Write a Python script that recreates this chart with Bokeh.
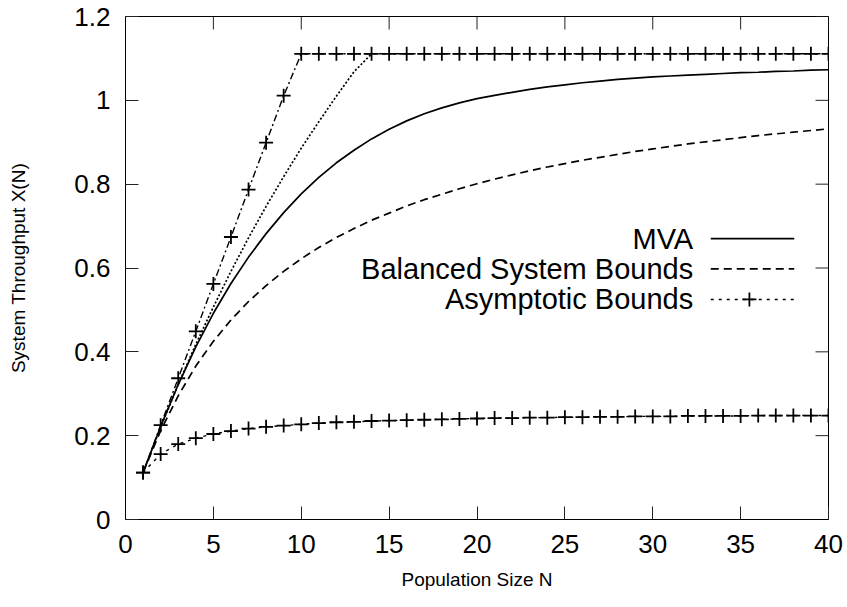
from bokeh.plotting import figure
from bokeh.models import Range1d, FixedTicker, Label, CustomJSTickFormatter
from bokeh.embed import file_html
from bokeh.resources import INLINE

# ---------------- data ----------------
N = list(range(1, 41))

mva = [0.112, 0.222, 0.322, 0.412, 0.492, 0.563, 0.626, 0.682, 0.732, 0.777,
       0.816, 0.851, 0.881, 0.908, 0.931, 0.951, 0.968, 0.982, 0.994, 1.004,
       1.012, 1.019, 1.026, 1.032, 1.037, 1.042, 1.046, 1.050, 1.053, 1.056,
       1.058, 1.060, 1.062, 1.064, 1.066, 1.067, 1.069, 1.070, 1.072, 1.073]

bsb_lower = [0.112, 0.212, 0.295, 0.366, 0.425, 0.476, 0.520, 0.558, 0.592, 0.622,
             0.649, 0.673, 0.694, 0.714, 0.731, 0.748, 0.763, 0.776, 0.789, 0.801,
             0.812, 0.822, 0.832, 0.841, 0.849, 0.857, 0.864, 0.871, 0.878, 0.884,
             0.890, 0.896, 0.901, 0.906, 0.911, 0.916, 0.920, 0.924, 0.928, 0.932]

bsb_upper_n = list(range(1, 15))
bsb_upper = [0.112, 0.220, 0.322, 0.418, 0.507, 0.592, 0.672, 0.747, 0.818, 0.886,
             0.949, 1.010, 1.068, 1.111]

asym_upper = [0.112, 0.225, 0.337, 0.449, 0.562, 0.674, 0.787, 0.899, 1.011, 1.111,
              1.111, 1.111, 1.111, 1.111, 1.111, 1.111, 1.111, 1.111, 1.111, 1.111,
              1.111, 1.111, 1.111, 1.111, 1.111, 1.111, 1.111, 1.111, 1.111, 1.111,
              1.111, 1.111, 1.111, 1.111, 1.111, 1.111, 1.111, 1.111, 1.111, 1.111]

asym_lower = [0.112, 0.156, 0.180, 0.194, 0.204, 0.211, 0.217, 0.221, 0.224, 0.227,
              0.230, 0.232, 0.233, 0.235, 0.236, 0.237, 0.238, 0.239, 0.240, 0.241,
              0.242, 0.242, 0.243, 0.243, 0.244, 0.244, 0.245, 0.245, 0.246, 0.246,
              0.246, 0.247, 0.247, 0.247, 0.247, 0.248, 0.248, 0.248, 0.248, 0.248]

x_ticks = [0, 5, 10, 15, 20, 25, 30, 35, 40]
y_ticks = [0, 0.2, 0.4, 0.6, 0.8, 1.0, 1.2]

series_names = ["MVA", "Balanced System Bounds", "Asymptotic Bounds"]

# ---------------- figure ----------------
FONT = "Liberation Sans"
X0, X1, Y0, Y1 = 0, 40, 0, 1.2
FRAME_W, FRAME_H = 703, 503
p = figure(width=847, height=607, output_backend="svg", toolbar_location=None,
           x_range=Range1d(X0, X1), y_range=Range1d(Y0, Y1),
           min_border_left=125, min_border_right=19, min_border_top=16, min_border_bottom=88,
           x_axis_label="Population Size N", y_axis_label="System Throughput X(N)")
p.background_fill_color = "white"
p.border_fill_color = "white"
p.outline_line_color = "black"
p.outline_line_width = 1
p.grid.visible = False

fmt = CustomJSTickFormatter(code="return (Math.round(tick*10)/10).toString();")

for ax, ticks in ((p.xaxis[0], x_ticks), (p.yaxis[0], y_ticks)):
    ax.ticker = FixedTicker(ticks=ticks)
    ax.formatter = fmt
    ax.major_tick_in = 13
    ax.major_tick_out = 0
    ax.minor_tick_in = 0
    ax.minor_tick_out = 0
    ax.major_tick_line_color = "#222222"
    ax.axis_line_color = "black"
    ax.major_label_text_font = FONT
    ax.major_label_text_font_size = "26px"
    ax.major_label_text_color = "black"
    ax.axis_label_text_font = FONT
    ax.axis_label_text_font_size = "19px"
    ax.axis_label_text_font_style = "normal"
    ax.axis_label_text_color = "black"

p.xaxis[0].major_label_standoff = 15
p.xaxis[0].axis_label_standoff = 13
p.yaxis[0].major_label_standoff = 15
p.yaxis[0].axis_label_standoff = 42

# mirrored inward ticks on the top and right borders
tick_dy = 13 * (Y1 - Y0) / FRAME_H
tick_dx = 13 * (X1 - X0) / FRAME_W
p.segment(x0=x_ticks, y0=[Y1] * len(x_ticks), x1=x_ticks, y1=[Y1 - tick_dy] * len(x_ticks),
          line_color="#222222", line_width=1)
p.segment(x0=[X1] * len(y_ticks), y0=y_ticks, x1=[X1 - tick_dx] * len(y_ticks), y1=y_ticks,
          line_color="#222222", line_width=1)

LW = 1.7
# MVA
p.line(N, mva, line_color="black", line_width=LW)
# Balanced system bounds
p.line(N, bsb_lower, line_color="black", line_width=LW, line_dash="8 5")
p.line(bsb_upper_n, bsb_upper, line_color="black", line_width=LW, line_dash="2 2")
# Asymptotic bounds
p.line(N, asym_upper, line_color="black", line_width=1.4, line_dash="7 3 2 3")
p.scatter(N, asym_upper, marker="cross", size=14, line_color="black", line_width=1.8)
p.line(N, asym_lower, line_color="black", line_width=1.4, line_dash="3 5")
p.scatter(N, asym_lower, marker="cross", size=14, line_color="black", line_width=1.8)

# ---------------- legend (gnuplot style: text left, sample right) ----------------
leg_text_x = 32.3
leg_x0, leg_x1, leg_xm = 33.3, 38.05, 35.5
leg_y = [0.670, 0.598, 0.525]
for name, yy in zip(series_names, leg_y):
    p.add_layout(Label(x=leg_text_x, y=yy, text=name, text_align="right",
                       text_baseline="middle", text_font=FONT, text_font_size="29px",
                       text_color="black"))
p.line([leg_x0, leg_x1], [leg_y[0], leg_y[0]], line_color="black", line_width=LW)
p.line([leg_x0, leg_x1], [leg_y[1], leg_y[1]], line_color="black", line_width=LW, line_dash="8 5")
p.line([leg_x0, leg_x1], [leg_y[2], leg_y[2]], line_color="black", line_width=1.4, line_dash="3 5")
p.scatter([leg_xm], [leg_y[2]], marker="cross", size=14, line_color="black", line_width=1.8)

open("out.html", "w").write(file_html(p, INLINE))
